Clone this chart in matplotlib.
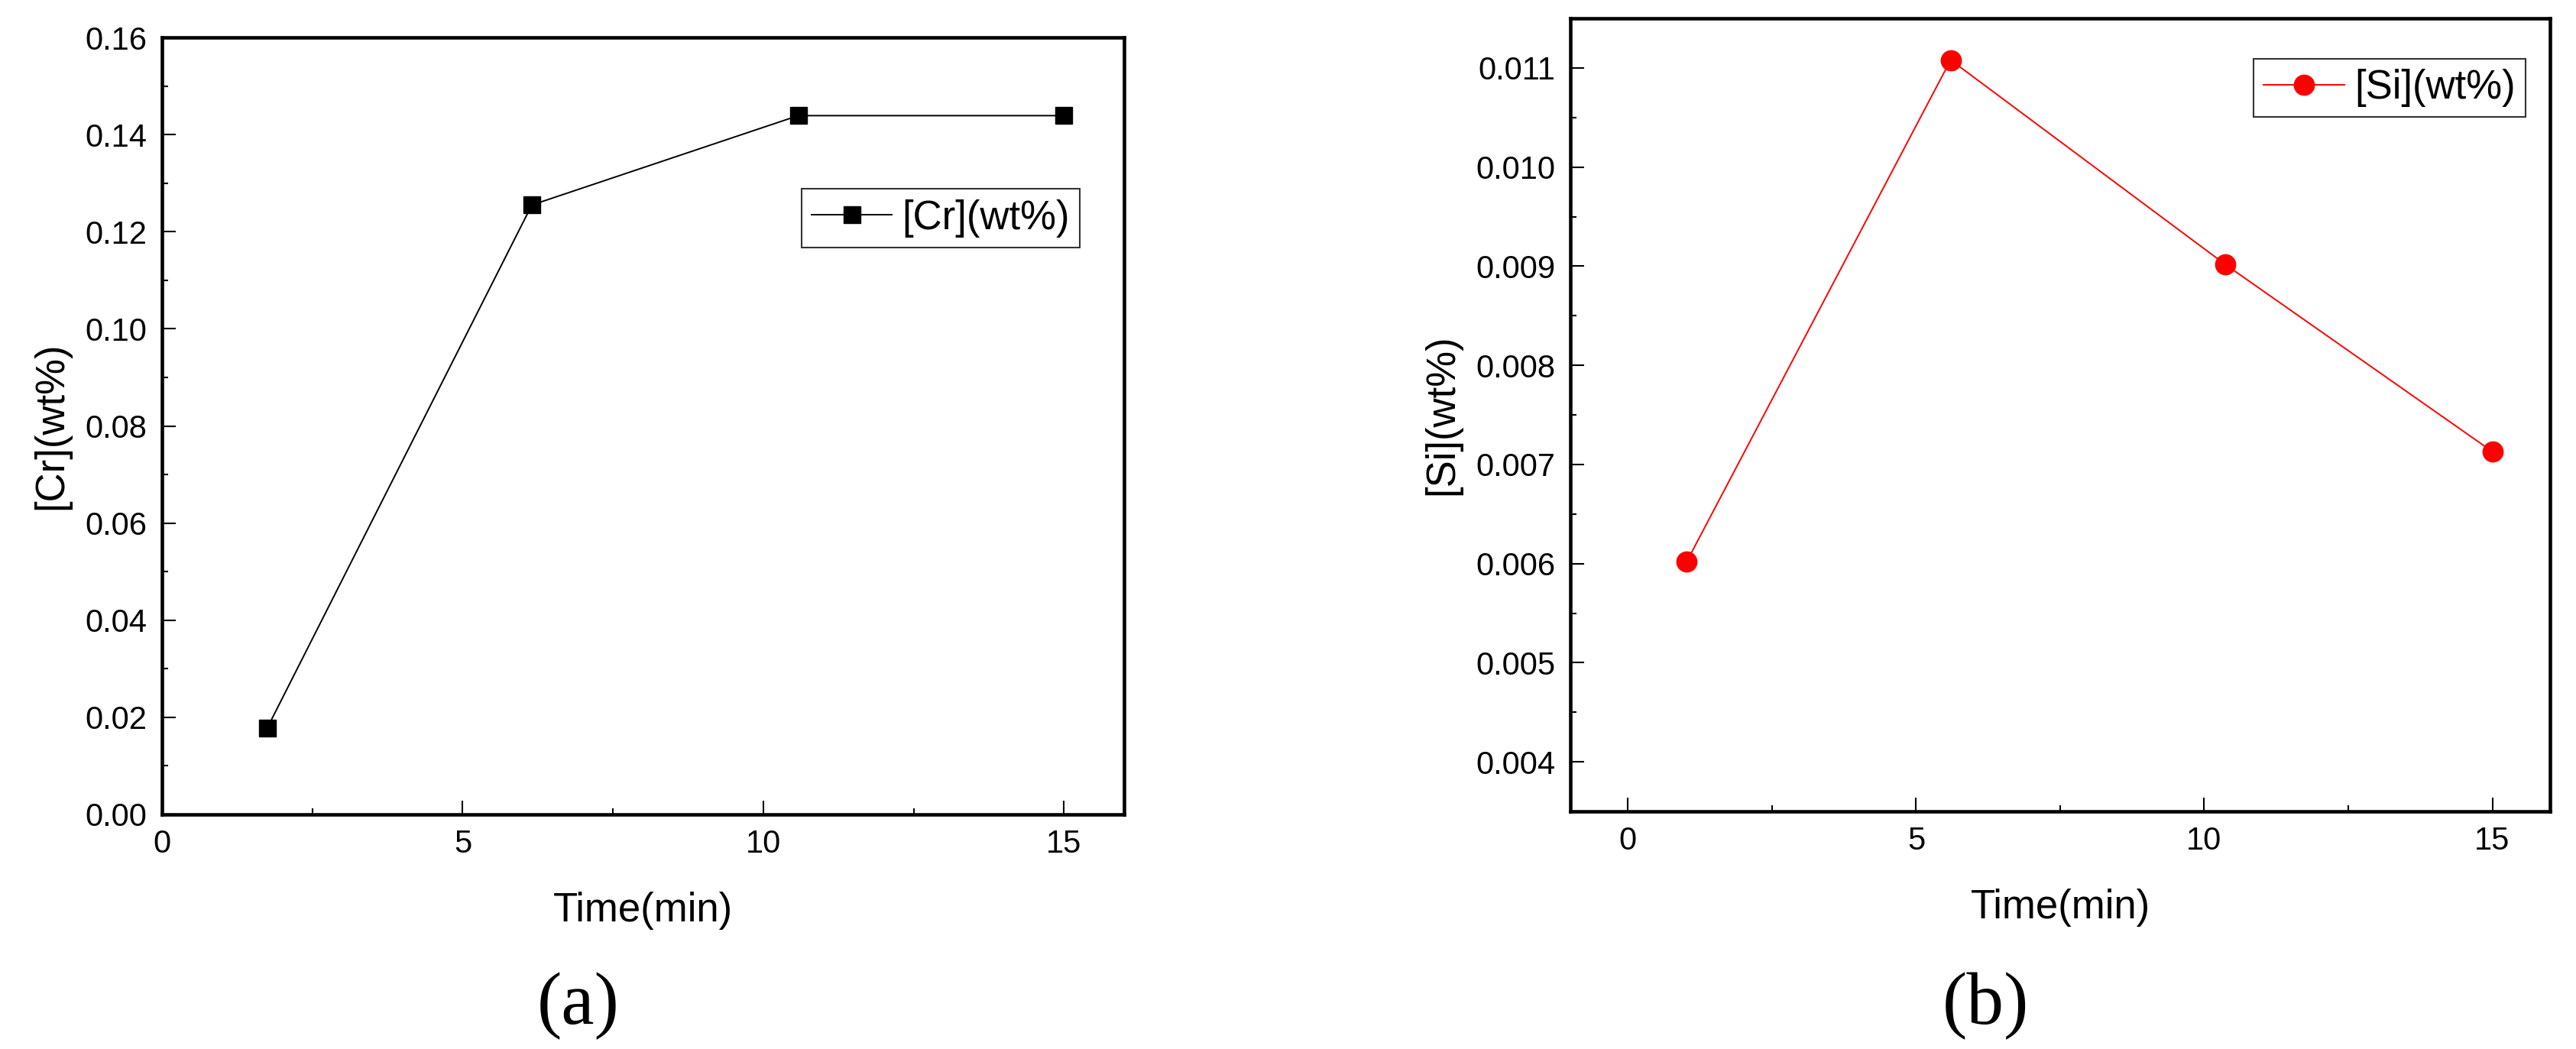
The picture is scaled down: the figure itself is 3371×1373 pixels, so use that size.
import matplotlib
matplotlib.use('Agg')
import matplotlib.pyplot as plt
from matplotlib.ticker import MultipleLocator, FormatStrFormatter

plt.rcParams['font.family'] = ['Liberation Sans', 'DejaVu Sans']

# data
time_cr = [1.75, 6.15, 10.58, 15.0]
cr_wt = [0.0178, 0.1255, 0.1439, 0.1439]

time_si = [1.02, 5.6, 10.36, 15.0]
si_wt = [0.00602, 0.01108, 0.00902, 0.00713]

fig = plt.figure(figsize=(33.71, 13.73), dpi=100)
ax1 = fig.add_axes([0.0629, 0.2236, 0.3735, 0.7407])
ax2 = fig.add_axes([0.6096, 0.2265, 0.3803, 0.7560])

#panel (a)
ax1.plot(time_cr, cr_wt, color='black', linewidth=1.4, marker='s',
         markersize=16, label='[Cr](wt%)')
ax1.set_xlim(0, 16)
ax1.set_ylim(0, 0.16)
ax1.xaxis.set_major_locator(MultipleLocator(5))
ax1.xaxis.set_minor_locator(MultipleLocator(2.5))
ax1.yaxis.set_major_locator(MultipleLocator(0.02))
ax1.yaxis.set_minor_locator(MultipleLocator(0.01))
ax1.yaxis.set_major_formatter(FormatStrFormatter('%.2f'))
ax1.set_xlabel('Time(min)', fontsize=38, labelpad=30)
ax1.set_ylabel('[Cr](wt%)', fontsize=38, labelpad=14)
leg1 = ax1.legend(loc='upper right', bbox_to_anchor=(0.954, 0.805), fontsize=38,
                  fancybox=False, edgecolor='black', handlelength=2.0,
                  borderpad=0.25, borderaxespad=0, handletextpad=0.25)
leg1.get_frame().set_linewidth(1.5)

#panel (b)
ax2.plot(time_si, si_wt, color='#ff0000', linewidth=1.4, marker='o',
         markersize=19, label='[Si](wt%)')
ax2.set_xlim(-1, 16)
ax2.set_ylim(0.0035, 0.0115)
ax2.xaxis.set_major_locator(MultipleLocator(5))
ax2.xaxis.set_minor_locator(MultipleLocator(2.5))
ax2.yaxis.set_major_locator(MultipleLocator(0.001))
ax2.yaxis.set_minor_locator(MultipleLocator(0.0005))
ax2.yaxis.set_major_formatter(FormatStrFormatter('%.3f'))
ax2.set_xlabel('Time(min)', fontsize=38, labelpad=30)
ax2.set_ylabel('[Si](wt%)', fontsize=38, labelpad=14)
leg2 = ax2.legend(loc='upper right', bbox_to_anchor=(0.975, 0.949), fontsize=38,
                  fancybox=False, edgecolor='black', handlelength=2.0,
                  borderpad=0.25, borderaxespad=0, handletextpad=0.25)
leg2.get_frame().set_linewidth(1.5)

for ax in (ax1, ax2):
    for s in ax.spines.values():
        s.set_linewidth(3.3)
    ax.tick_params(which='both', direction='in', top=False, right=False,
                   labelsize=30, width=1.5)
    ax.tick_params(which='major', length=13, pad=14)
    ax.tick_params(which='minor', length=6)

fig.text(0.2246, 0.041, '(a)', fontsize=70, family='Liberation Serif',
         ha='center', va='center')
fig.text(0.7707, 0.041, '(b)', fontsize=70, family='Liberation Serif',
         ha='center', va='center')

fig.savefig('out.png', dpi=100)
